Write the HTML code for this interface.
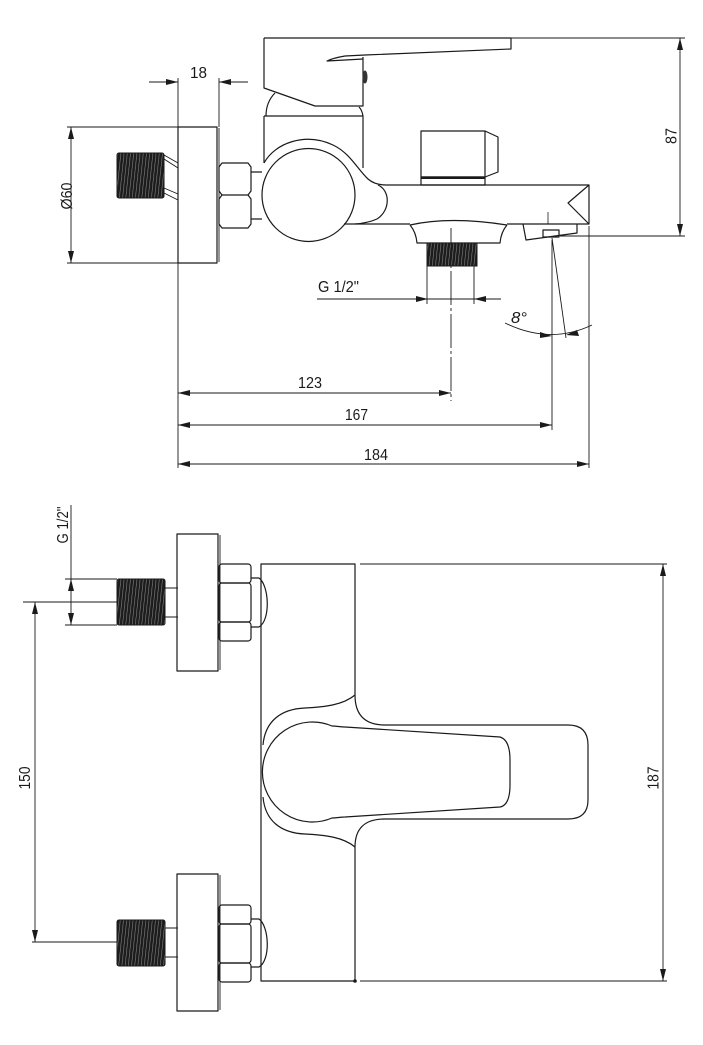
<!DOCTYPE html>
<html>
<head>
<meta charset="utf-8">
<style>
html,body{margin:0;padding:0;background:#fff;}
svg{display:block;}
text{font-family:"Liberation Sans Narrow","Liberation Sans",sans-serif;font-size:16px;fill:#1a1a1a;}
</style>
</head>
<body>
<svg width="703" height="1045" viewBox="0 0 703 1045" xmlns="http://www.w3.org/2000/svg">
<defs>
<pattern id="thr" patternUnits="userSpaceOnUse" width="3.2" height="60" patternTransform="skewX(-6)">
<rect x="0" y="0" width="3.2" height="60" fill="#1c1c1c"/>
<line x1="2.6" y1="0" x2="2.6" y2="60" stroke="#9a9a9a" stroke-width="0.5"/>
</pattern>
</defs>
<rect x="0" y="0" width="703" height="1045" fill="#fff"/>

<!-- ================= TOP VIEW ================= -->
<g fill="none" stroke="#1a1a1a" stroke-width="1.2" stroke-linejoin="round">
  <!-- handle -->
  <path d="M264,38 L511,38 L511,49 L365,55 L345,56 Q333,58 327,61 L363,59"/>
  <path d="M264,38 L264,88 L315,106 L363,106 L363,57"/>
  <path d="M266,116 C266,106 270,98 275,93"/>
  <path d="M359,107 Q362,110 363,116"/>
  <!-- body -->
  <path d="M264,116 L363,116"/>
  <path d="M264,116 L264,163"/>
  <path d="M363,116 L363,168"/>
  <!-- outer shell -->
  <path d="M264,163 C275,143 305,132 333,145 C350,153 358,170 368,179 Q375,185 386,185"/>
  <!-- spout -->
  <path d="M386,185 L589,185 L589,224 L507,224"/>
  <path d="M410,224 L344,224"/>
  <path d="M589,185 L568,203 L589,224"/>
  <path d="M378,185 C390,190 391,210 377,219 Q368,223 355,224"/>
  <!-- circle -->
  <circle cx="308.5" cy="195" r="46.5"/>
  <!-- connector -->
  <path d="M251,172 L262,172 M251,219 L262,219"/>
  <!-- hex -->
  <path d="M222,163 L248,163 L251,167 L251,191 L248,195 L251,199 L251,224 L248,228 L222,228 L219,224 L219,199 L222,195 L219,191 L219,167 Z"/>
  <path d="M222,195 L248,195"/>
  <!-- escutcheon -->
  <rect x="178" y="127" width="39" height="136"/>
  <line x1="219" y1="128" x2="219" y2="262" stroke-width="0.9"/>
  <!-- stubs -->
  <path d="M164,155 L178,163 M164,159 L178,168 M164,188 L178,194 M164,193 L178,200" stroke-width="0.9"/>
  <!-- diverter -->
  <rect x="421" y="131" width="64" height="46"/>
  <path d="M485,131 L498,137 L498,172 L485,177"/>
  <rect x="421" y="177" width="64" height="8"/>
  <line x1="421" y1="178" x2="485" y2="178" stroke-width="2"/>
  <!-- outlet -->
  <path d="M410,225 Q450,216 507,225"/>
  <path d="M410,225 Q416,232 417,243 L500,243 Q501,232 507,225"/>
  <!-- aerator -->
  <path d="M523,224 L526,240 L577,233 L577,224"/>
  <rect x="543" y="230" width="16" height="7"/>
  <line x1="548" y1="212" x2="548" y2="224" stroke-width="0.8"/>
</g>
<ellipse cx="365" cy="77" rx="2.5" ry="6.5" fill="#333"/>
<!-- threads top -->
<rect x="117" y="153" width="47" height="45" rx="2" fill="url(#thr)" stroke="#1a1a1a" stroke-width="1"/>
<rect x="427" y="243" width="50" height="23" fill="url(#thr)" stroke="#1a1a1a" stroke-width="1"/>

<!-- top dims -->
<g fill="none" stroke="#1a1a1a" stroke-width="0.9">
  <!-- 18 -->
  <path d="M178,78 L178,127 M219,78 L219,127 M149,82 L178,82 M219,82 L248,82"/>
  <!-- Ø60 -->
  <path d="M67,127 L178,127 M67,263 L178,263 M71,127 L71,263"/>
  <!-- 87 -->
  <path d="M511,38 L685,38 M560,236 L685,236 M680,38 L680,236"/>
  <!-- G1/2 top -->
  <path d="M427,266 L427,304 M474,266 L474,304 M317,299 L501,299"/>
  <path d="M451,228 L451,401" stroke-dasharray="34,3,3,3"/>
  <!-- verticals -->
  <path d="M178,263 L178,468 M552,240 L552,430 M589,226 L589,468 M552,238 L566,338"/>
  <!-- 8 deg arc -->
  <path d="M505,323 Q550,345 592,325"/>
  <!-- 123/167/184 -->
  <path d="M178,393 L451,393 M178,425 L552,425 M178,464 L589,464"/>
</g>
<g fill="#1a1a1a" stroke="none">
  <polygon points="178,82 166,79 166,85"/>
  <polygon points="219,82 231,79 231,85"/>
  <polygon points="71,127 68,139 74,139"/>
  <polygon points="71,263 68,251 74,251"/>
  <polygon points="680,38 677,50 683,50"/>
  <polygon points="680,236 677,224 683,224"/>
  <polygon points="428,299 416,296 416,302"/>
  <polygon points="474,299 486,296 486,302"/>
  <polygon points="552,336 540,332 540,338"/>
  <polygon points="566,335 577,330 579,336"/>
  <polygon points="178,393 190,390 190,396"/>
  <polygon points="451,393 439,390 439,396"/>
  <polygon points="178,425 190,422 190,428"/>
  <polygon points="552,425 540,422 540,428"/>
  <polygon points="178,464 190,461 190,467"/>
  <polygon points="589,464 577,461 577,467"/>
</g>
<text x="198.5" y="78" text-anchor="middle" textLength="17" lengthAdjust="spacingAndGlyphs">18</text>
<text transform="translate(66,196) rotate(-90)" x="0" y="5.8" text-anchor="middle" textLength="27" lengthAdjust="spacingAndGlyphs">Ø60</text>
<text transform="translate(670.5,136) rotate(-90)" x="0" y="5.8" text-anchor="middle" textLength="16" lengthAdjust="spacingAndGlyphs">87</text>
<text x="318" y="292" textLength="41" lengthAdjust="spacingAndGlyphs">G 1/2"</text>
<text x="511" y="323" font-style="italic" textLength="16" lengthAdjust="spacingAndGlyphs">8°</text>
<text x="310" y="388" text-anchor="middle" textLength="24" lengthAdjust="spacingAndGlyphs">123</text>
<text x="356.5" y="420" text-anchor="middle" textLength="23" lengthAdjust="spacingAndGlyphs">167</text>
<text x="376" y="460" text-anchor="middle" textLength="24" lengthAdjust="spacingAndGlyphs">184</text>

<!-- ================= BOTTOM VIEW ================= -->
<g fill="none" stroke="#1a1a1a" stroke-width="1.2" stroke-linejoin="round">
  <!-- body -->
  <path d="M261,981 L261,564 L355,564 L355,695 C355,715 365,725 385,725 L568,725 Q588,725 588,745 L588,800 Q588,819 568,819 L385,819 C365,819 355,828 355,847 L355,981 Z"/>
  <!-- flare -->
  <path d="M355,695 C343,705 325,707 305,708 C280,709 265,722 263,745"/>
  <path d="M355,847 C343,837 325,835 305,834 C280,833 265,820 263,797"/>
  <!-- lever -->
  <path d="M332,726 C337,726 340,727 345,727 L500,737 Q510,740 510,760 L510,785 Q510,805 500,807 L345,817 C340,817 337,818 332,818 A50,50 0 1 1 332,726 Z"/>
  <!-- upper fitting -->
  <rect x="177" y="534" width="41" height="137"/>
  <line x1="220" y1="535" x2="220" y2="670" stroke-width="0.9"/>
  <rect x="219" y="564" width="32" height="19" rx="3"/>
  <rect x="219" y="583" width="32" height="39" rx="3"/>
  <rect x="219" y="622" width="32" height="19" rx="3"/>
  <path d="M251,578 L259,578 C269,585 271,620 259,627 L251,627"/>
  <path d="M165,588 L178,588 M165,617 L178,617" stroke-width="0.9"/>
  <!-- lower fitting -->
  <rect x="177" y="874" width="41" height="137"/>
  <line x1="220" y1="875" x2="220" y2="1010" stroke-width="0.9"/>
  <rect x="219" y="905" width="32" height="19" rx="3"/>
  <rect x="219" y="924" width="32" height="39" rx="3"/>
  <rect x="219" y="963" width="32" height="19" rx="3"/>
  <path d="M251,919 L259,919 C269,926 271,960 259,967 L251,967"/>
  <path d="M165,928 L178,928 M165,957 L178,957" stroke-width="0.9"/>
</g>
<rect x="117" y="579" width="48" height="46" rx="2" fill="url(#thr)" stroke="#1a1a1a" stroke-width="1"/>
<rect x="117" y="920" width="48" height="46" rx="2" fill="url(#thr)" stroke="#1a1a1a" stroke-width="1"/>
<circle cx="355" cy="981" r="1.8" fill="#1a1a1a"/>

<g fill="none" stroke="#1a1a1a" stroke-width="0.9">
  <!-- G1/2 bottom -->
  <path d="M71,505 L71,625 M65,579 L117,579 M65,625 L117,625"/>
  <!-- 150 -->
  <path d="M23,602 L117,602 M32,942 L117,942 M35,602 L35,942"/>
  <!-- 187 -->
  <path d="M360,564 L667,564 M360,981 L667,981 M663,564 L663,981"/>
</g>
<g fill="#1a1a1a" stroke="none">
  <polygon points="71,579 68,591 74,591"/>
  <polygon points="71,625 68,613 74,613"/>
  <polygon points="35,602 32,614 38,614"/>
  <polygon points="35,942 32,930 38,930"/>
  <polygon points="663,564 660,576 666,576"/>
  <polygon points="663,981 660,969 666,969"/>
</g>
<text transform="translate(62,525) rotate(-90)" x="0" y="5.8" text-anchor="middle" textLength="37" lengthAdjust="spacingAndGlyphs">G 1/2"</text>
<text transform="translate(24,778) rotate(-90)" x="0" y="5.8" text-anchor="middle" textLength="23" lengthAdjust="spacingAndGlyphs">150</text>
<text transform="translate(652.5,778) rotate(-90)" x="0" y="5.8" text-anchor="middle" textLength="23" lengthAdjust="spacingAndGlyphs">187</text>
</svg>
</body>
</html>
